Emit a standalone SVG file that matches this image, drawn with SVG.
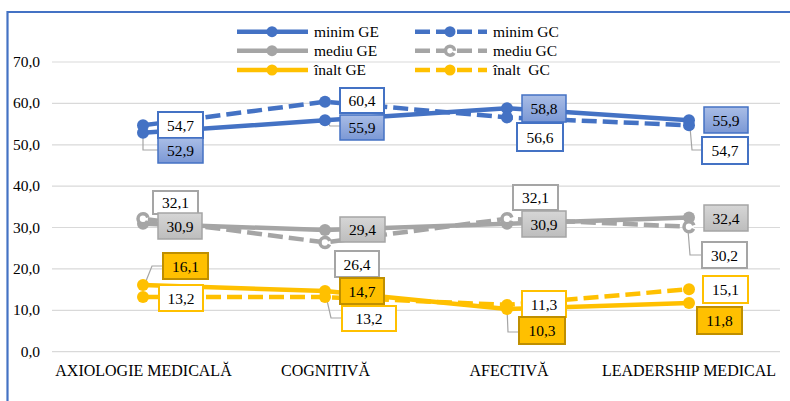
<svg xmlns="http://www.w3.org/2000/svg" width="790" height="401" viewBox="0 0 790 401">
<defs>
<linearGradient id="gb" x1="0" y1="0" x2="0" y2="1"><stop offset="0" stop-color="#A9BDE6"/><stop offset="1" stop-color="#7B98D5"/></linearGradient>
<linearGradient id="gg" x1="0" y1="0" x2="0" y2="1"><stop offset="0" stop-color="#D6D6D6"/><stop offset="1" stop-color="#BDBDBD"/></linearGradient>
<style>
.t{font-family:Liberation Serif, Times New Roman, Times, serif;fill:#000}
.ax{font-size:15.5px;text-anchor:end}
.cat{font-size:16px;text-anchor:middle}
.lg{font-size:15.5px}
.lb{font-size:15.5px;text-anchor:middle}
.grid{stroke:#D9D9D9;stroke-width:1.2}
.ln{fill:none;stroke-width:4.5;stroke-linejoin:round}
.ds{stroke-dasharray:15 6}
.b{stroke:#4472C4}.g{stroke:#A5A5A5}.y{stroke:#FFC000}
.bf{fill:#4472C4}.gf{fill:#A5A5A5}.yf{fill:#FFC000}
.ring{fill:#fff;stroke:#A5A5A5;stroke-width:3.5;stroke-dasharray:27 4.4;stroke-dashoffset:-2.2}
.lead{fill:none;stroke:#A5A5A5;stroke-width:1.2}
.bxBE{fill:url(#gb);stroke:#4472C4;stroke-width:1.5}
.bxBC{fill:#fff;stroke:#4472C4;stroke-width:2}
.bxGE{fill:url(#gg);stroke:#A5A5A5;stroke-width:1.5}
.bxGC{fill:#fff;stroke:#A5A5A5;stroke-width:2}
.bxYE{fill:#FFC000;stroke:#BF8F00;stroke-width:2}
.bxYC{fill:#fff;stroke:#FFC000;stroke-width:2}
</style>
</defs>
<rect width="790" height="401" fill="#fff"/>
<g id="frame">
<line x1="7" y1="12" x2="790" y2="12" stroke="#4472C4" stroke-width="2.2"/>
<line x1="7.5" y1="11" x2="7.5" y2="401" stroke="#4472C4" stroke-width="2.2"/>
</g>
<g id="grid">
<line class="grid" x1="52" y1="62" x2="780" y2="62"/>
<line class="grid" x1="52" y1="103.4" x2="780" y2="103.4"/>
<line class="grid" x1="52" y1="144.8" x2="780" y2="144.8"/>
<line class="grid" x1="52" y1="186.1" x2="780" y2="186.1"/>
<line class="grid" x1="52" y1="227.5" x2="780" y2="227.5"/>
<line class="grid" x1="52" y1="268.9" x2="780" y2="268.9"/>
<line class="grid" x1="52" y1="310.3" x2="780" y2="310.3"/>
<line class="grid" x1="52" y1="351.7" x2="780" y2="351.7"/>
</g>
<g id="y-axis" class="t">
<text class="t ax" x="40" y="67">70,0</text>
<text class="t ax" x="40" y="108.4">60,0</text>
<text class="t ax" x="40" y="149.8">50,0</text>
<text class="t ax" x="40" y="191.1">40,0</text>
<text class="t ax" x="40" y="232.5">30,0</text>
<text class="t ax" x="40" y="273.9">20,0</text>
<text class="t ax" x="40" y="315.3">10,0</text>
<text class="t ax" x="40" y="356.7">0,0</text>
</g>
<g id="x-axis">
<text class="t cat" x="143.5" y="376">AXIOLOGIE MEDICALĂ</text>
<text class="t cat" x="325.5" y="376">COGNITIVĂ</text>
<text class="t cat" x="509" y="376">AFECTIVĂ</text>
<text class="t cat" x="689" y="376">LEADERSHIP MEDICAL</text>
</g>
<g id="legend">
<line class="ln b" x1="237" y1="31.7" x2="308" y2="31.7"/><circle class="bf" cx="272" cy="31.7" r="5.5"/>
<text class="t lg" x="314" y="37">minim GE</text>
<line class="ln b ds" x1="415" y1="31.7" x2="487" y2="31.7"/><circle class="bf" cx="450" cy="31.7" r="5.5"/>
<text class="t lg" x="493" y="37">minim GC</text>
<line class="ln g" x1="237" y1="50.7" x2="308" y2="50.7"/><circle class="gf" cx="272" cy="50.7" r="5.5"/>
<text class="t lg" x="314" y="56">mediu GE</text>
<line class="ln g ds" x1="415" y1="50.7" x2="487" y2="50.7"/><circle class="ring" cx="450" cy="50.7" r="4.5"/>
<text class="t lg" x="493" y="56">mediu GC</text>
<line class="ln y" x1="237" y1="70" x2="308" y2="70"/><circle class="yf" cx="272" cy="70" r="5.5"/>
<text class="t lg" x="314" y="75.3">înalt GE</text>
<line class="ln y ds" x1="415" y1="70" x2="487" y2="70"/><circle class="yf" cx="450" cy="70" r="5.5"/>
<text class="t lg" x="493" y="75.3" xml:space="preserve">înalt  GC</text>
</g>
<g id="connectors">
<polyline class="ln b" points="143,132.7 325,120.3 507,108.3 689,120.3"/>
<polyline class="ln b ds" points="143,125.3 325,101.7 507,117.4 689,125.3"/>
<polyline class="ln g" points="143,223.8 325,230 507,223.8 689,217.6"/>
<polyline class="ln g ds" points="143,218.8 325,242.4 507,218.8 689,226.7"/>
<polyline class="ln y" points="143,285.1 325,290.9 507,309.1 689,302.9"/>
<polyline class="ln y ds" points="143,297.1 325,297.1 507,304.9 689,289.2"/>
<polyline class="lead" points="143,133 143,150 158,150"/>
<polyline class="lead" points="144,286 152,266 163,266"/>
<polyline class="lead" points="326,120 330,126 340,126"/>
<polyline class="lead" points="326,296 331,318 342,318"/>
<polyline class="lead" points="507,308 508,332 519,332"/>
<polyline class="lead" points="690,127 692,150 702,150"/>
<polyline class="lead" points="688,230 690,255 702,255"/>
</g>
<g id="markers">
<circle class="bf" cx="143" cy="132.7" r="6"/><circle class="bf" cx="325" cy="120.3" r="6"/><circle class="bf" cx="507" cy="108.3" r="6"/><circle class="bf" cx="689" cy="120.3" r="6"/>
<circle class="bf" cx="143" cy="125.3" r="6"/><circle class="bf" cx="325" cy="101.7" r="6"/><circle class="bf" cx="507" cy="117.4" r="6"/><circle class="bf" cx="689" cy="125.3" r="6"/>
<circle class="gf" cx="143" cy="223.8" r="6"/><circle class="gf" cx="325" cy="230" r="6"/><circle class="gf" cx="507" cy="223.8" r="6"/><circle class="gf" cx="689" cy="217.6" r="6"/>
<circle class="ring" cx="143" cy="218.8" r="5"/><circle class="ring" cx="325" cy="242.4" r="5"/><circle class="ring" cx="507" cy="218.8" r="5"/><circle class="ring" cx="689" cy="226.7" r="5"/>
<circle class="yf" cx="143" cy="285.1" r="6"/><circle class="yf" cx="325" cy="290.9" r="6"/><circle class="yf" cx="507" cy="309.1" r="6"/><circle class="yf" cx="689" cy="302.9" r="6"/>
<circle class="yf" cx="143" cy="297.1" r="6"/><circle class="yf" cx="325" cy="297.1" r="6"/><circle class="yf" cx="507" cy="304.9" r="6"/><circle class="yf" cx="689" cy="289.2" r="6"/>
</g>
<g id="labels-minim">
<g id="l-b1c"><rect class="bxBC" x="158" y="112" width="45" height="26"/><text class="t lb" x="180.5" y="130.5">54,7</text></g>
<g id="l-b1e"><rect class="bxBE" x="158" y="138" width="45" height="25"/><text class="t lb" x="180.5" y="156">52,9</text></g>
<g id="l-b2c"><rect class="bxBC" x="340" y="88" width="44" height="25"/><text class="t lb" x="362" y="106">60,4</text></g>
<g id="l-b2e"><rect class="bxBE" x="340" y="115" width="44" height="25"/><text class="t lb" x="362" y="133">55,9</text></g>
<g id="l-b3e"><rect class="bxBE" x="522" y="95" width="44" height="27"/><text class="t lb" x="544" y="114">58,8</text></g>
<g id="l-b3c"><rect class="bxBC" x="517" y="123" width="46" height="28"/><text class="t lb" x="540" y="142.5">56,6</text></g>
<g id="l-b4e"><rect class="bxBE" x="704" y="107" width="44" height="26"/><text class="t lb" x="726" y="125.5">55,9</text></g>
<g id="l-b4c"><rect class="bxBC" x="702" y="137" width="46" height="27"/><text class="t lb" x="725" y="156">54,7</text></g>
</g>
<g id="labels-mediu">
<g id="l-g1c"><rect class="bxGC" x="153" y="191" width="45" height="23"/><text class="t lb" x="175.5" y="208">32,1</text></g>
<g id="l-g1e"><rect class="bxGE" x="158" y="213" width="44" height="26"/><text class="t lb" x="180" y="231.5">30,9</text></g>
<g id="l-g2e"><rect class="bxGE" x="340" y="217" width="45" height="25"/><text class="t lb" x="362.5" y="235">29,4</text></g>
<g id="l-g2c"><rect class="bxGC" x="335" y="251" width="44" height="26"/><text class="t lb" x="357" y="269.5">26,4</text></g>
<g id="l-g3c"><rect class="bxGC" x="513" y="185" width="45" height="25"/><text class="t lb" x="535.5" y="203">32,1</text></g>
<g id="l-g3e"><rect class="bxGE" x="522" y="211" width="44" height="26"/><text class="t lb" x="544" y="229.5">30,9</text></g>
<g id="l-g4e"><rect class="bxGE" x="704" y="205" width="44" height="26"/><text class="t lb" x="726" y="223.5">32,4</text></g>
<g id="l-g4c"><rect class="bxGC" x="702" y="242" width="45" height="26"/><text class="t lb" x="724.5" y="260.5">30,2</text></g>
</g>
<g id="labels-inalt">
<g id="l-y1e"><rect class="bxYE" x="163" y="253" width="45" height="26"/><text class="t lb" x="185.5" y="271.5">16,1</text></g>
<g id="l-y1c"><rect class="bxYC" x="159" y="285" width="44" height="26"/><text class="t lb" x="181" y="303.5">13,2</text></g>
<g id="l-y2e"><rect class="bxYE" x="340" y="278" width="44" height="26"/><text class="t lb" x="362" y="296.5">14,7</text></g>
<g id="l-y2c"><rect class="bxYC" x="342" y="306" width="54" height="25"/><text class="t lb" x="369" y="324">13,2</text></g>
<g id="l-y3c"><rect class="bxYC" x="522" y="291" width="44" height="26"/><text class="t lb" x="544" y="309.5">11,3</text></g>
<g id="l-y3e"><rect class="bxYE" x="519" y="317" width="46" height="27"/><text class="t lb" x="542" y="336">10,3</text></g>
<g id="l-y4c"><rect class="bxYC" x="703" y="276" width="45" height="27"/><text class="t lb" x="725.5" y="295">15,1</text></g>
<g id="l-y4e"><rect class="bxYE" x="697" y="307" width="45" height="27"/><text class="t lb" x="719.5" y="326">11,8</text></g>
</g>
</svg>
